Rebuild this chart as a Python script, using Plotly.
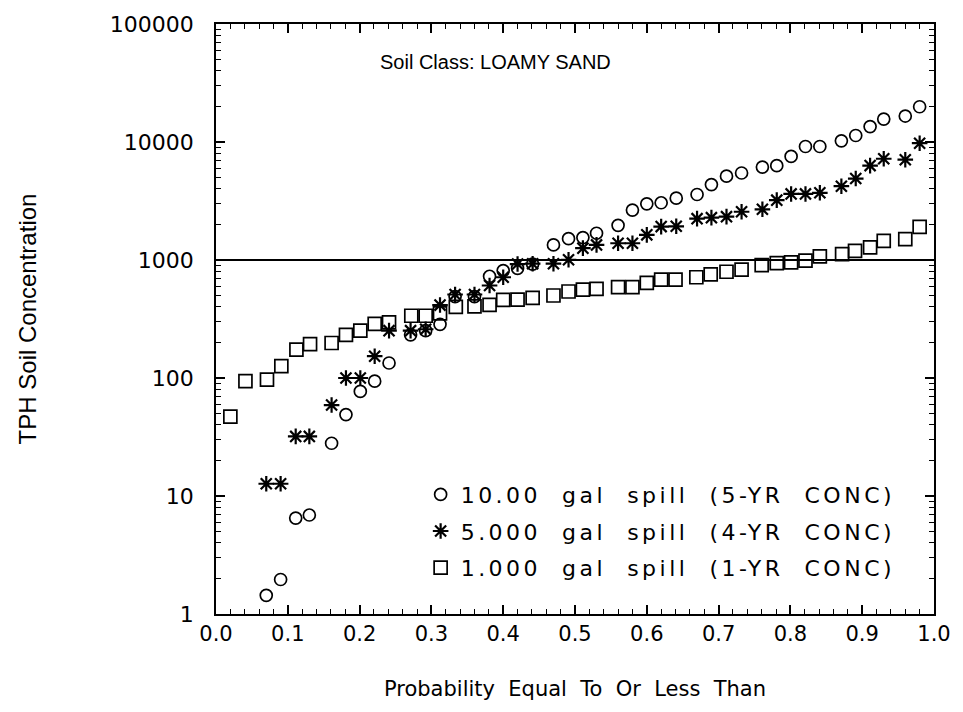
import plotly.graph_objects as go

prob_c = [0.070,0.090,0.111,0.130,0.161,0.181,0.201,0.221,0.241,0.271,0.292,0.312,0.333,0.360,
          0.381,0.400,0.420,0.441,0.470,0.491,0.511,0.530,0.560,0.580,0.600,0.620,0.641,0.670,
          0.690,0.711,0.732,0.761,0.781,0.801,0.821,0.841,0.871,0.891,0.911,0.930,0.960,0.980]
conc_10000 = [1.44,1.96,6.5,6.9,28,49,77,94,134,232,252,285,490,490,
              728,813,850,924,1343,1515,1550,1686,1968,2650,2990,3055,3340,3590,
              4355,5130,5460,6130,6300,7550,9160,9160,10230,11350,13500,15640,16600,19900]
conc_5000 = [12.7,12.7,32,32,59,100,100,153,252,252,259,415,510,510,
             608,714,924,930,930,1005,1260,1343,1387,1387,1633,1918,1930,2240,
             2285,2330,2565,2690,3215,3630,3630,3710,4220,4900,6310,7210,7080,9770]
prob_q = [0.020,0.041,0.071,0.091,0.112,0.131,0.161,0.181,0.201,0.221,0.241,0.272,0.292,0.312,
          0.334,0.360,0.381,0.400,0.420,0.441,0.470,0.491,0.511,0.530,0.560,0.580,0.600,0.620,
          0.640,0.669,0.689,0.711,0.732,0.760,0.781,0.801,0.821,0.841,0.872,0.890,0.911,0.930,
          0.960,0.980]
conc_1000 = [47,94,97,126,174,194,198,232,252,287,296,337,337,353,
             401,405,417,460,461,478,500,541,562,569,588,588,639,683,
             683,714,755,795,828,906,942,955,986,1072,1122,1197,1277,1453,
             1500,1906]

names = ["10.00  gal  spill  (5-YR  CONC)", "5.000  gal  spill  (4-YR  CONC)", "1.000  gal  spill  (1-YR  CONC)"]
threshold = 1000
x_ticks = [0.0, 0.1, 0.2, 0.3, 0.4, 0.5, 0.6, 0.7, 0.8, 0.9, 1.0]
x_ticklabels = ["0.0", "0.1", "0.2", "0.3", "0.4", "0.5", "0.6", "0.7", "0.8", "0.9", "1.0"]
y_ticks = [1, 10, 100, 1000, 10000, 100000]
y_ticklabels = ["1", "10", "100", "1000", "10000", "100000"]

font = "DejaVu Sans"
fig = go.Figure()
fig.add_trace(go.Scatter(x=prob_c, y=conc_10000, mode="markers", name=names[0], legendgroup="a",
                         marker=dict(symbol="circle-open", size=12, color="black", line=dict(width=1.7))))
fig.add_trace(go.Scatter(x=prob_c, y=conc_5000, mode="markers", name=names[1], legendgroup="b",
                         marker=dict(symbol="asterisk-open", size=13, color="black", line=dict(width=2.2))))
fig.add_trace(go.Scatter(x=prob_q, y=conc_1000, mode="markers", name=names[2], legendgroup="c",
                         marker=dict(symbol="square-open", size=13, color="black", line=dict(width=1.7))))

fig.add_shape(type="line", xref="paper", x0=0, x1=1, yref="y", y0=threshold, y1=threshold,
              line=dict(color="black", width=1.8))

fig.add_annotation(text="Soil Class: LOAMY SAND", xref="paper", yref="paper", x=0.225, y=0.935,
                   xanchor="left", yanchor="middle", showarrow=False,
                   font=dict(family="Liberation Sans", size=20, color="black"))

fig.update_layout(
    width=963, height=712,
    margin=dict(l=216, r=22, t=20, b=98),
    paper_bgcolor="white", plot_bgcolor="white",
    showlegend=True,
    legend=dict(x=0.285, y=0.238, xanchor="left", yanchor="top",
                bgcolor="rgba(0,0,0,0)", font=dict(family=font, size=22, color="black"),
                itemwidth=30, traceorder="grouped", tracegroupgap=5),
    font=dict(family=font, color="black"),
)
fig.update_xaxes(range=[0, 1], tickvals=x_ticks, ticktext=x_ticklabels,
                 ticks="inside", ticklen=9, tickwidth=1.5, tickcolor="black",
                 showline=True, linecolor="black", linewidth=1.8, mirror="allticks",
                 showgrid=False, zeroline=False,
                 minor=dict(ticks="inside", dtick=0.02, ticklen=5, tickcolor="black", tickwidth=1.2, showgrid=False),
                 tickfont=dict(family=font, size=21, color="black"),
                 title=dict(text="Probability  Equal  To  Or  Less  Than", standoff=36,
                            font=dict(family=font, size=21, color="black")))
fig.update_yaxes(type="log", range=[0, 5], tickvals=y_ticks, ticktext=y_ticklabels,
                 ticks="inside", ticklen=9, tickwidth=1.5, tickcolor="black",
                 showline=True, linecolor="black", linewidth=1.8, mirror="allticks",
                 showgrid=False, zeroline=False, ticklabelstandoff=16,
                 minor=dict(ticks="inside", dtick="D1", ticklen=5, tickcolor="black", tickwidth=1.2, showgrid=False),
                 tickfont=dict(family=font, size=22, color="black"),
                 title=dict(text="TPH Soil Concentration", standoff=66,
                            font=dict(family="Liberation Sans", size=24, color="black")))

post = ("document.querySelectorAll('.legendtext').forEach(function(e){e.style.letterSpacing='3.5px';});"
        "document.querySelectorAll('.legend .scrollbox').forEach(function(e){e.removeAttribute('clip-path');});")
fig.write_html("out.html", post_script=post)
